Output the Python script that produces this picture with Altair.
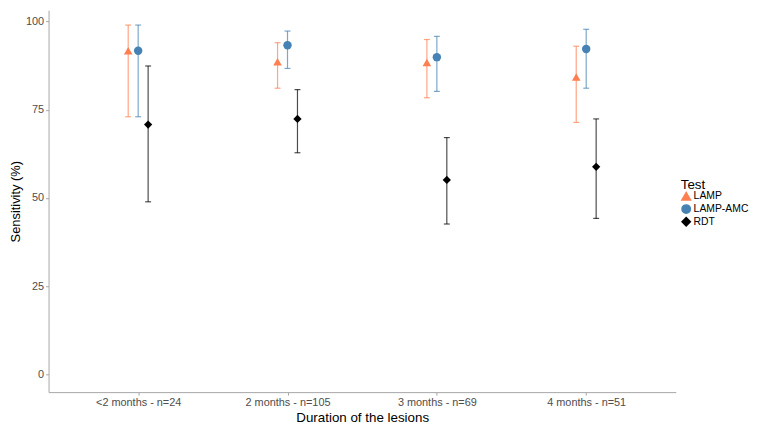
import altair as alt
import pandas as pd

categories = ["<2 months - n=24", "2 months - n=105", "3 months - n=69", "4 months - n=51"]
tests = ["LAMP", "LAMP-AMC", "RDT"]
dodge = [-0.0667, 0.0, 0.0667]

lamp = [91.7, 88.6, 88.4, 84.3]
lamp_lo = [73.0, 81.1, 78.4, 71.4]
lamp_hi = [99.0, 94.0, 94.9, 93.0]

amc = [91.7, 93.3, 89.9, 92.2]
amc_lo = [73.0, 86.7, 80.2, 81.1]
amc_hi = [99.0, 97.3, 95.8, 97.8]

rdt = [70.8, 72.4, 55.1, 58.8]
rdt_lo = [48.9, 62.8, 42.6, 44.2]
rdt_hi = [87.4, 80.7, 67.1, 72.4]

series = {"LAMP": (lamp, lamp_lo, lamp_hi),
          "LAMP-AMC": (amc, amc_lo, amc_hi),
          "RDT": (rdt, rdt_lo, rdt_hi)}

rows = []
for ti, t in enumerate(tests):
    v, lo, hi = series[t]
    for ci, c in enumerate(categories):
        rows.append({"cat": c, "idx": ci + 1, "test": t, "dodge": dodge[ti],
                     "value": v[ci], "lo": lo[ci], "hi": hi[ci]})
df = pd.DataFrame(rows)

label_expr = " : ".join(
    [f"datum.value == {i+1} ? '{c}'" for i, c in enumerate(categories)]) + " : ''"

FONT = "Liberation Sans"
colors = ["#FF7F50", "#4682B4", "#000000"]
shapes = ["triangle-up", "circle", "diamond"]

x_enc = alt.X("xpos:Q",
              scale=alt.Scale(domain=[0.4, 4.6], nice=False, zero=False),
              axis=alt.Axis(values=[1, 2, 3, 4], labelExpr=label_expr,
                            title="Duration of the lesions", grid=False,
                            domainColor="#A6A6A6", tickColor="#A6A6A6", tickSize=3,
                            labelColor="#4D4D4D", labelFontSize=11, labelFont=FONT,
                            labelPadding=2, titleFont=FONT, titleFontSize=13.5,
                            titleFontWeight="normal", titleColor="#000000",
                            titlePadding=3))
y_scale = alt.Scale(domain=[-5.05, 103.2], nice=False, zero=False)
y_axis = alt.Axis(values=[0, 25, 50, 75, 100], title="Sensitivity (%)", grid=False,
                  domainColor="#A6A6A6", tickColor="#A6A6A6", tickSize=3,
                  labelColor="#4D4D4D", labelFontSize=11, labelFont=FONT,
                  labelPadding=2, titleFont=FONT, titleFontSize=13,
                  titleFontWeight="normal", titleColor="#000000", titlePadding=3)

base = alt.Chart(df).transform_calculate(xpos="datum.idx + datum.dodge")

color_scale = alt.Scale(domain=tests, range=colors)
shape_scale = alt.Scale(domain=tests, range=shapes)
col = alt.Color("test:N", scale=color_scale)

rules = base.mark_rule(strokeWidth=1.2, strokeOpacity=0.7).encode(
    x=x_enc, y=alt.Y("lo:Q", scale=y_scale, axis=y_axis), y2="hi:Q", color=col)
caps_lo = base.mark_rule(strokeWidth=1.2, strokeOpacity=0.7, xOffset=-3, x2Offset=3).encode(
    x="xpos:Q", x2="xpos:Q", y=alt.Y("lo:Q"), color=col)
caps_hi = base.mark_rule(strokeWidth=1.2, strokeOpacity=0.7, xOffset=-3, x2Offset=3).encode(
    x="xpos:Q", x2="xpos:Q", y=alt.Y("hi:Q"), color=col)

legend = alt.Legend(title="Test", orient="none", legendX=639, legendY=170,
                    padding=0, titleFont=FONT, titleFontSize=13.5,
                    titleFontWeight="normal", titleColor="#000000", labelFont=FONT,
                    labelFontSize=10.5, labelColor="#000000", symbolSize=32,
                    rowPadding=-4, titlePadding=-1, labelOffset=2, symbolOffset=0,
                    symbolOpacity=1)

points = base.mark_point(filled=True, opacity=1).encode(
    x="xpos:Q", y=alt.Y("value:Q"),
    color=alt.Color("test:N", scale=color_scale, legend=legend),
    shape=alt.Shape("test:N", scale=shape_scale),
    size=alt.Size("test:N", scale=alt.Scale(domain=tests, range=[75, 70, 40]), legend=None),
)

chart = alt.layer(rules, caps_lo, caps_hi, points).properties(
    width=634, height=386,
    autosize=alt.AutoSizeParams(type="none"),
    padding={"left": 41, "top": 0, "right": 75, "bottom": 34},
    background="white",
).configure_view(stroke=None)

chart.save("out.html", embed_options={"renderer": "svg", "actions": False})
